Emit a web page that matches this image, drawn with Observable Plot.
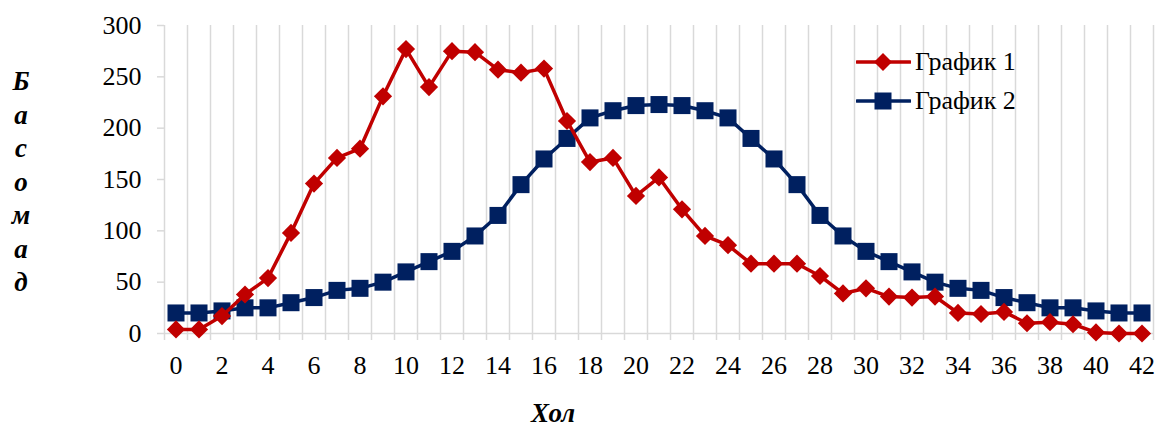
<!DOCTYPE html>
<html>
<head>
<meta charset="utf-8">
<script src="https://cdn.jsdelivr.net/npm/d3@7"></script>
<script src="https://cdn.jsdelivr.net/npm/@observablehq/plot@0.6"></script>
<style>
  html, body { margin: 0; padding: 0; background: #fff; }
  #wrap { position: relative; width: 1159px; height: 427px; font-family: 'Liberation Serif', serif; }
  #wrap svg text, #wrap svg { font-family: 'Liberation Serif', serif !important; }
  #ylab { position: absolute; left: 7px; top: 65px; width: 28px; text-align: center; font-weight: bold; font-style: italic; font-size: 27px; line-height: 33.5px; font-family: 'Liberation Serif', serif; }
  #xlab { position: absolute; left: 503px; width: 100px; top: 398px; text-align: center; font-weight: bold; font-style: italic; font-size: 27px; line-height: 30px; font-family: 'Liberation Serif', serif; }
  #legend { position: absolute; left: 856px; top: 42px; font-size: 26px; font-family: 'Liberation Serif', serif; }
  .row { display: flex; align-items: center; height: 39px; }
  .row svg { margin-right: 4px; }
</style>
</head>
<body>
<div id="wrap"></div>
<script>
// Categories (x) and series values (y)
const hours = d3.range(0, 43);
const series1Name = "График 1";
const series2Name = "График 2";
const series1 = [4, 4, 17, 38, 54, 98, 146, 171, 180, 231, 277, 240, 275, 274, 257, 254, 258, 207, 167, 171, 134, 152, 121, 95, 86, 68, 68, 68, 56, 39, 44, 36, 35, 36, 20, 19, 21, 10, 11, 9, 1, 0, 0];
const series2 = [20, 20, 22, 25, 25, 30, 35, 42, 44, 50, 60, 70, 80, 95, 115, 145, 170, 190, 210, 217, 222, 223, 222, 217, 210, 190, 170, 145, 115, 95, 80, 70, 60, 50, 44, 42, 35, 30, 25, 25, 22, 20, 20];
const yTicks = [0, 50, 100, 150, 200, 250, 300];
const xTickLabels = d3.range(0, 43, 2);
const yLabel = "Басомад";
const xLabel = "Хол";

const red = "#C00000";
const navy = "#002060";
const grid = "#d9d9d9";
const serif = "'Liberation Serif', serif";

const d1 = hours.map((h, i) => ({h, v: series1[i]}));
const d2 = hours.map((h, i) => ({h, v: series2[i]}));
const bounds = hours.map(h => h - 0.5).concat([hours[hours.length - 1] + 0.5]);

const chart = Plot.plot({
  width: 1159,
  height: 427,
  marginLeft: 164,
  marginRight: 6,
  marginTop: 25,
  marginBottom: 94,
  style: {fontFamily: serif, background: "#fff", overflow: "visible"},
  x: {type: "linear", domain: [bounds[0], bounds[bounds.length - 1]]},
  y: {domain: [0, 300]},
  marks: [
    Plot.gridX(bounds, {stroke: grid, strokeOpacity: 1, strokeWidth: 1.5}),
    Plot.ruleY([0], {stroke: grid, strokeWidth: 1.5}),
    Plot.axisY({ticks: yTicks, tickSize: 7, tickPadding: 16, stroke: grid, strokeWidth: 1.5, fill: "black", fontSize: 26, fontFamily: serif, label: null}),
    Plot.axisX({ticks: bounds, tickSize: 7, tickFormat: () => "", stroke: grid, strokeWidth: 1.5, label: null}),
    Plot.axisX({ticks: xTickLabels, tickSize: 0, tickPadding: 22, fill: "black", fontSize: 26, fontFamily: serif, label: null, tickFormat: d => String(d)}),
    Plot.line(d2, {x: "h", y: "v", stroke: navy, strokeWidth: 3.5}),
    Plot.dot(d2, {x: "h", y: "v", symbol: "square", r: 9.6, fill: navy, stroke: null}),
    Plot.line(d1, {x: "h", y: "v", stroke: red, strokeWidth: 3.5}),
    Plot.dot(d1, {x: "h", y: "v", symbol: "diamond2", r: 8.2, fill: red, stroke: null})
  ]
});

const wrap = document.getElementById("wrap");
wrap.appendChild(chart);

const yl = document.createElement("div");
yl.id = "ylab";
yl.innerHTML = yLabel.split("").join("<br>");
wrap.appendChild(yl);

const xl = document.createElement("div");
xl.id = "xlab";
xl.textContent = xLabel;
wrap.appendChild(xl);

const legend = document.createElement("div");
legend.id = "legend";
const items = [
  {name: series1Name, color: red, shape: "diamond"},
  {name: series2Name, color: navy, shape: "square"}
];
for (const it of items) {
  const row = document.createElement("div");
  row.className = "row";
  const marker = it.shape === "diamond"
    ? `<polygon points="27,1 36,10 27,19 18,10" fill="${it.color}"/>`
    : `<rect x="18.5" y="1.5" width="17" height="17" fill="${it.color}"/>`;
  row.innerHTML = `<svg width="55" height="20"><line x1="1" y1="10" x2="54" y2="10" stroke="${it.color}" stroke-width="3.5" stroke-linecap="round"/>${marker}</svg><span>${it.name}</span>`;
  legend.appendChild(row);
}
wrap.appendChild(legend);
</script>
</body>
</html>
